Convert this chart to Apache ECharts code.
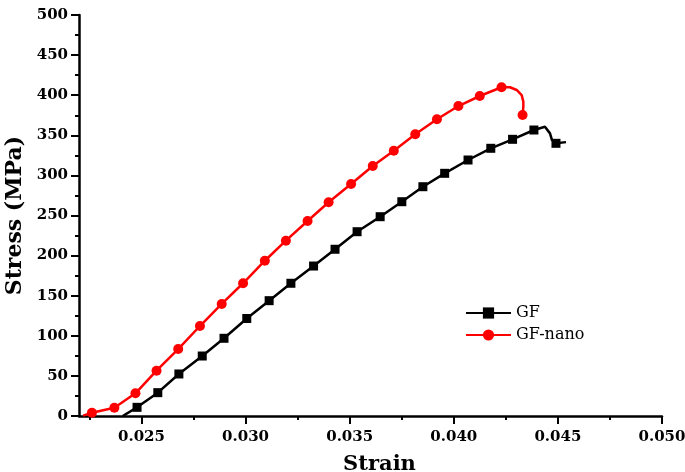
<!DOCTYPE html>
<html>
<head>
<meta charset="utf-8">
<script src="https://cdn.jsdelivr.net/npm/echarts@6/dist/echarts.min.js"></script>
<style>html,body{margin:0;padding:0;background:#fff;}#c{width:685px;height:472px;}</style>
</head>
<body>
<div id="c"></div>
<script>
// GF series (1 = drawn with a marker, 0 = curve point only)
const gfStrain = [0.0241, 0.024788, 0.025785, 0.026797, 0.027919, 0.028964, 0.030058, 0.031132, 0.032177, 0.033266, 0.034297, 0.035356, 0.036464, 0.037505, 0.038516, 0.039562, 0.040684, 0.041777, 0.042823, 0.043849, 0.044379, 0.04462, 0.044716, 0.044908, 0.04539];
const gfStress = [0, 10.8, 29.1, 52.4, 74.8, 96.9, 121.6, 143.8, 165.5, 187.0, 207.9, 229.8, 248.5, 267.2, 285.9, 302.6, 319.2, 333.8, 345.0, 356.6, 360.7, 352.4, 344.0, 340.0, 341.5];
const gfMark   = [0, 1, 1, 1, 1, 1, 1, 1, 1, 1, 1, 1, 1, 1, 1, 1, 1, 1, 1, 1, 0, 0, 0, 1, 0];

// GF-nano series
const nanoStrain = [0.0222, 0.02262, 0.023699, 0.024711, 0.025723, 0.026763, 0.027808, 0.028854, 0.02988, 0.030925, 0.031936, 0.032977, 0.033988, 0.035067, 0.036108, 0.037119, 0.03815, 0.039191, 0.040222, 0.041248, 0.042293, 0.0427, 0.04302, 0.04326, 0.04334, 0.04334, 0.043304];
const nanoStress = [0.5, 4.1, 10.3, 28.3, 56.5, 83.5, 112.2, 139.7, 165.5, 193.6, 218.6, 243.1, 266.5, 289.3, 311.7, 330.8, 351.2, 370.0, 386.5, 399.0, 409.9, 409.9, 406.5, 400.2, 392.0, 385.7, 375.3];
const nanoMark   = [0, 1, 1, 1, 1, 1, 1, 1, 1, 1, 1, 1, 1, 1, 1, 1, 1, 1, 1, 1, 1, 0, 0, 0, 0, 0, 1];

const xMajor = [0.025, 0.030, 0.035, 0.040, 0.045, 0.050];
const xMinor = [0.0225, 0.0275, 0.0325, 0.0375, 0.0425, 0.0475];

function build(xs, ys, marks) {
  return xs.map((x, i) => marks[i] ? { value: [x, ys[i]] } : { value: [x, ys[i]], symbol: 'none' });
}

const serif = '"DejaVu Serif", "Liberation Serif", serif';
const chart = echarts.init(document.getElementById('c'));
chart.setOption({
  animation: false,
  backgroundColor: '#fff',
  grid: { left: 79, right: 23, top: 15, bottom: 56, containLabel: false, outerBoundsMode: 'none' },
  legend: {
    orient: 'vertical', left: 460, top: 300, itemWidth: 45, itemHeight: 14, itemGap: 6,
    textStyle: { fontFamily: serif, fontSize: 16, color: '#000' },
    data: ['GF', 'GF-nano']
  },
  xAxis: [{
    type: 'value', min: 0.022, max: 0.050,
    name: 'Strain', nameLocation: 'middle', nameGap: 38,
    nameTextStyle: { fontFamily: serif, fontWeight: 'bold', fontSize: 21, color: '#000', padding: [0, 0, 0, 18] },
    axisLine: { show: true, onZero: false, lineStyle: { color: '#000', width: 2.5 } },
    axisTick: { show: true, length: 8, customValues: xMajor, lineStyle: { color: '#000', width: 2 } },
    axisLabel: { customValues: xMajor, margin: 14, fontFamily: serif, fontWeight: 'bold', fontSize: 15, color: '#000', formatter: v => v.toFixed(3) },
    splitLine: { show: false }
  }, {
    type: 'value', min: 0.022, max: 0.050, position: 'bottom', gridIndex: 0,
    axisLine: { show: false },
    axisTick: { show: true, length: 4, customValues: xMinor, lineStyle: { color: '#000', width: 2 } },
    axisLabel: { show: false },
    splitLine: { show: false }
  }],
  yAxis: {
    type: 'value', min: 0, max: 500, interval: 50,
    name: 'Stress (MPa)', nameLocation: 'middle', nameGap: 51,
    nameTextStyle: { fontFamily: serif, fontWeight: 'bold', fontSize: 22, color: '#000' },
    axisLine: { show: true, lineStyle: { color: '#000', width: 2.5 } },
    axisTick: { show: true, length: 8, lineStyle: { color: '#000', width: 2 } },
    minorTick: { show: true, splitNumber: 2, length: 4, lineStyle: { color: '#000', width: 2 } },
    axisLabel: { margin: 11, fontFamily: serif, fontWeight: 'bold', fontSize: 15, color: '#000' },
    splitLine: { show: false }
  },
  series: [{
    name: 'GF', type: 'line', xAxisIndex: 0,
    data: build(gfStrain, gfStress, gfMark),
    symbol: 'rect', symbolSize: 9, showAllSymbol: true,
    lineStyle: { color: '#000', width: 2.5 }, itemStyle: { color: '#000' }
  }, {
    name: 'GF-nano', type: 'line', xAxisIndex: 0,
    data: build(nanoStrain, nanoStress, nanoMark),
    symbol: 'circle', symbolSize: 10, showAllSymbol: true,
    lineStyle: { color: '#ff0000', width: 2.5 }, itemStyle: { color: '#ff0000' }
  }]
});
</script>
</body>
</html>
